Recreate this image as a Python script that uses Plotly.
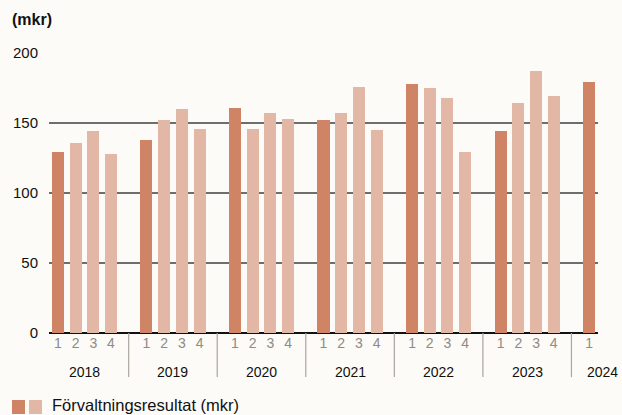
import plotly.graph_objects as go

years = ["2018", "2019", "2020", "2021", "2022", "2023", "2024"]
quarters = ["1", "2", "3", "4"]
values = [
    [129, 136, 144, 128],
    [138, 152, 160, 146],
    [161, 146, 157, 153],
    [152, 157, 176, 145],
    [178, 175, 168, 129],
    [144, 164, 187, 169],
    [179],
]
y_ticks = [0, 50, 100, 150, 200]
legend_label = "Förvaltningsresultat (mkr)"
unit_label = "(mkr)"

DARK = "#cf8466"
LIGHT = "#e2b7a6"
BG = "#fcfbf7"
FONT = "Liberation Sans, Arial, sans-serif"

W, H = 622.0, 415.0
L, R, T, B = 49, 24, 52, 82
pw = W - L - R
ph = H - T - B
YMAX = 200 * ph / 280.0  # 280 px per 200 units
XMIN, XMAX = -0.5, 30.5

def px(x): return (x - L) / pw
def py(y): return (H - B - y) / ph
def dx2paper(d): return (d - XMIN) / (XMAX - XMIN)

xd, yd, xl, yl = [], [], [], []
tickvals, ticktext = [], []
for yi, vals in enumerate(values):
    for qi, v in enumerate(vals):
        pos = yi * 5 + qi
        tickvals.append(pos)
        ticktext.append(quarters[qi])
        if qi == 0:
            xd.append(pos); yd.append(v)
        else:
            xl.append(pos); yl.append(v)

fig = go.Figure()
fig.add_trace(go.Bar(x=xd, y=yd, marker=dict(color=DARK, line=dict(width=0)), width=0.68,
                     showlegend=False, hoverinfo="y"))
fig.add_trace(go.Bar(x=xl, y=yl, marker=dict(color=LIGHT, line=dict(width=0)), width=0.68,
                     showlegend=False, hoverinfo="y"))

shapes = []
annotations = []
for yi in range(1, len(years)):
    shapes.append(dict(type="line", xref="x", yref="paper", x0=yi * 5 - 1, x1=yi * 5 - 1,
                       y0=0, y1=-0.157, line=dict(color="#aaa59d", width=1.2)))
for yi, yr in enumerate(years):
    n = len(values[yi])
    cx = yi * 5 + (n - 1) / 2 if n > 1 else yi * 5 + 0.75
    annotations.append(dict(text=yr, x=dx2paper(cx), y=0, xref="paper", yref="paper", showarrow=False,
                            xanchor="center", yanchor="middle", yshift=-38.5,
                            font=dict(size=14, color="#111", family=FONT)))

annotations.append(dict(text="<b>" + unit_label + "</b>", x=px(10), y=py(19), xref="paper", yref="paper",
                        showarrow=False, xanchor="left", yanchor="middle",
                        font=dict(size=16, color="#111", family=FONT)))
annotations.append(dict(text=legend_label, x=px(50), y=py(405.5), xref="paper", yref="paper",
                        showarrow=False, xanchor="left", yanchor="middle",
                        font=dict(size=16.5, color="#111", family=FONT)))
shapes += [
    dict(type="rect", xref="paper", yref="paper", x0=px(12), x1=px(25), y0=py(414), y1=py(400),
         fillcolor=DARK, line=dict(width=0)),
    dict(type="rect", xref="paper", yref="paper", x0=px(29), x1=px(42), y0=py(414), y1=py(400),
         fillcolor=LIGHT, line=dict(width=0)),
]

fig.update_layout(
    width=622, height=415,
    margin=dict(l=L, r=R, t=T, b=B, autoexpand=False),
    paper_bgcolor=BG, plot_bgcolor=BG,
    bargap=0, barmode="overlay",
    xaxis=dict(range=[XMIN, XMAX], tickvals=tickvals, ticktext=ticktext, showgrid=False,
               zeroline=False, showline=False, ticks="",
               tickfont=dict(size=14, color="#8f8a84", family=FONT)),
    yaxis=dict(range=[0, YMAX], tickvals=y_ticks, showgrid=True, gridcolor="#6e6e6e", gridwidth=1.5,
               zeroline=True, zerolinecolor="#111", zerolinewidth=1.5, showline=False, ticks="",
               ticklabelstandoff=10,
               tickfont=dict(size=15, color="#111", family=FONT)),
    shapes=shapes,
    annotations=annotations,
    font=dict(family=FONT),
)

fig.write_html("out.html", config={"displayModeBar": False},
               post_script="document.body.style.margin='0';document.body.style.background='%s';" % BG)
